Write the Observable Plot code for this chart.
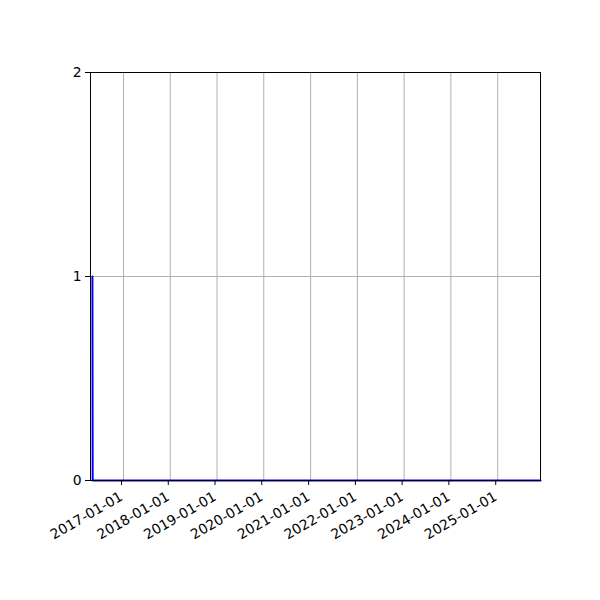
<!DOCTYPE html>
<html>
<head>
<meta charset="utf-8">
<script src="https://cdn.jsdelivr.net/npm/d3@7"></script>
<script src="https://cdn.jsdelivr.net/npm/@observablehq/plot@0.6"></script>
<style>
  html, body { margin: 0; padding: 0; background: #fff; }
  #chart { width: 600px; height: 600px; }
</style>
</head>
<body>
<div id="chart"></div>
<script>
const xStart = "2016-04-18";
const xEnd = "2025-12-01";
const dates = ["2016-05-03", "2016-05-05", "2025-12-01"];
const counts = [1, 0, 0];
const yTicks = [0, 1, 2];
const xTickYears = ["2017-01-01","2018-01-01","2019-01-01","2020-01-01","2021-01-01","2022-01-01","2023-01-01","2024-01-01","2025-01-01"];

const toDate = d => new Date(d + "T00:00:00Z");
const data = dates.map((d, i) => ({date: toDate(d), value: counts[i]}));
const xTicks = xTickYears.map(toDate);
const fmt = d3.utcFormat("%Y-%m-%d");

const chart = Plot.plot({
  width: 600,
  height: 600,
  marginLeft: 90,
  marginRight: 60,
  marginTop: 72,
  marginBottom: 120,
  style: {fontFamily: "DejaVu Sans", fontSize: "13.9px", color: "#000", background: "#fff"},
  x: {type: "utc", domain: [toDate(xStart), toDate(xEnd)]},
  y: {domain: [0, 2]},
  marks: [
    Plot.gridX(xTicks, {stroke: "#b0b0b0", strokeOpacity: 1, strokeWidth: 1}),
    Plot.gridY(yTicks, {stroke: "#b0b0b0", strokeOpacity: 1, strokeWidth: 1}),
    Plot.line(data, {x: "date", y: "value", stroke: "#0000ff", strokeWidth: 2}),
    Plot.frame({stroke: "#000", strokeWidth: 1}),
    Plot.axisY(yTicks, {tickSize: 5, tickPadding: 4, tickFormat: d => String(d), label: null, stroke: "#000"}),
    Plot.axisX(xTicks, {tickSize: 5, tickPadding: 10, dx: -2, tickRotate: -30, tickFormat: fmt, label: null, textAnchor: "end", stroke: "#000"})
  ]
});
document.getElementById("chart").appendChild(chart);
</script>
</body>
</html>
